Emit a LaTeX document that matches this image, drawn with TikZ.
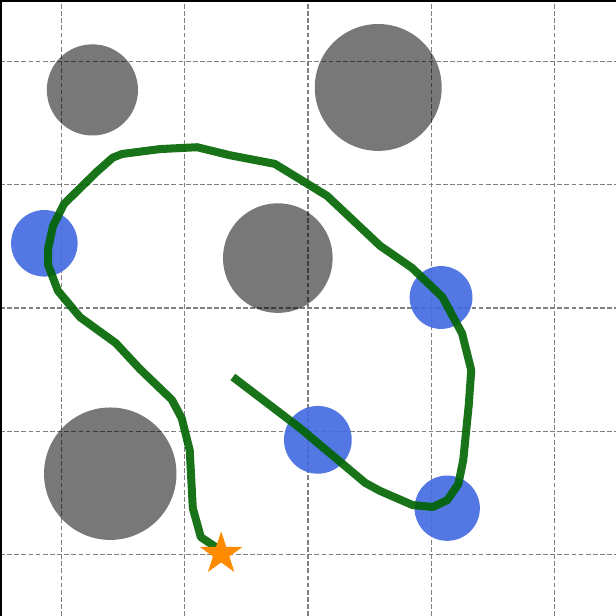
\documentclass[tikz,border=0pt]{standalone}
\usepackage{xcolor}
\usepackage{tikz}
\usetikzlibrary{shapes.geometric}

\definecolor{obsgray}{RGB}{0,0,0}
\definecolor{wpblue}{RGB}{65,105,225}
\definecolor{pathgreen}{RGB}{0,100,0}
\definecolor{goalorange}{RGB}{255,140,0}

\begin{document}
\begin{tikzpicture}[
    gridline/.style={gray, line width=0.6pt, dash pattern=on 2.2pt off 1.1pt},
    obstacle/.style={draw=none, circle, fill=obsgray, fill opacity=0.53, inner sep=0pt},
    waypoint/.style={draw=none, circle, fill=wpblue, fill opacity=0.9, inner sep=0pt},
    route/.style={pathgreen, draw opacity=0.9, line width=3.7pt, line join=round}
]
            \useasboundingbox (0,0) rectangle (10,10);
            \fill[white] (0,0) rectangle (10,10);

            % Grid
            \foreach \g in {1,3,5,7,9} {
                \draw[gridline] (\g,0) -- (\g,10);
                \draw[gridline] (0,\g) -- (10,\g);
            }
            \draw[black, line width=1.5pt] (0,0) -- (0,10) -- (10,10);

            % Obstacles
            \node[obstacle, minimum size=1.48cm] (o1) at (1.50,8.54) {};
            \node[obstacle, minimum size=2.06cm] (o2) at (6.14,8.58) {};
            \node[obstacle, minimum size=1.78cm] (o3) at (4.51,5.81) {};
            \node[obstacle, minimum size=2.15cm] (o4) at (1.79,2.31) {};

            % Waypoints
            \node[waypoint, minimum size=1.08cm] (w1) at (0.72,6.05) {};
            \node[waypoint, minimum size=1.02cm] (w2) at (7.16,5.17) {};
            \node[waypoint, minimum size=1.10cm] (w3) at (5.16,2.86) {};
            \node[waypoint, minimum size=1.06cm] (w4) at (7.26,1.75) {};

            % Route
            \coordinate (start) at (3.78,3.88);
            \coordinate (end) at (3.59,1.01);
            \draw[route] (start) -- (4.87,3.05) -- (5.93,2.16) -- (6.17,2.03) -- (6.70,1.80)
                -- (7.03,1.77) -- (7.26,1.88) -- (7.44,2.14) -- (7.52,2.53) -- (7.61,3.43)
                -- (7.65,3.99) -- (7.50,4.59) -- (7.18,5.18) -- (6.69,5.65) -- (6.17,6.01)
                -- (5.31,6.82) -- (4.46,7.34) -- (3.73,7.48) -- (3.20,7.61) -- (2.60,7.58)
                -- (1.98,7.50) -- (1.83,7.44) -- (1.57,7.21) -- (1.04,6.69) -- (0.86,6.33)
                -- (0.78,5.96) -- (0.78,5.70) -- (0.94,5.28) -- (1.30,4.85) -- (1.88,4.43)
                -- (2.27,4.01) -- (2.79,3.51) -- (2.95,3.21) -- (3.08,2.69) -- (3.13,1.75)
                -- (3.26,1.28) -- (3.47,1.14) -- (end);

            % Goal
            \node[star, star points=5, star point ratio=2.6, fill=goalorange, draw=none, minimum size=0.73cm, inner sep=0pt] (goal) at (end) {};
        \end{tikzpicture}
\end{document}
